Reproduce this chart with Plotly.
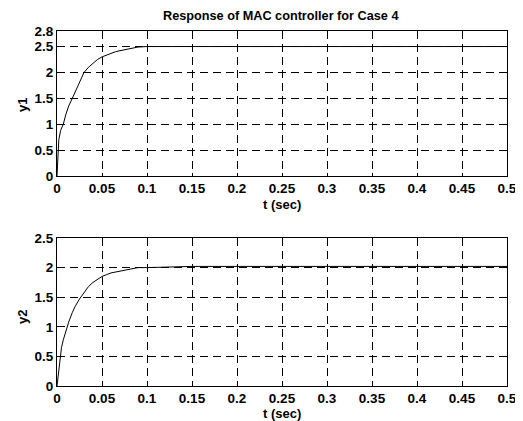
import plotly.graph_objects as go

# Data
t1 = [0, 0.001, 0.002, 0.004, 0.007, 0.01, 0.013, 0.017, 0.02, 0.025, 0.03, 0.035, 0.04, 0.045, 0.05,
      0.06, 0.065, 0.07, 0.08, 0.09, 0.1, 0.12, 0.15, 0.2, 0.3, 0.4, 0.5]
y1 = [0, 0.4, 0.7, 0.88, 1.0, 1.2, 1.35, 1.5, 1.62, 1.83, 2.0, 2.1, 2.18, 2.25, 2.3,
      2.37, 2.4, 2.42, 2.46, 2.49, 2.5, 2.5, 2.5, 2.5, 2.5, 2.5, 2.5]
t2 = [0, 0.001, 0.003, 0.005, 0.007, 0.01, 0.013, 0.017, 0.02, 0.025, 0.03, 0.035, 0.04, 0.045, 0.05,
      0.055, 0.06, 0.07, 0.08, 0.09, 0.1, 0.12, 0.15, 0.2, 0.3, 0.4, 0.5]
y2 = [0, 0.15, 0.45, 0.65, 0.78, 0.95, 1.08, 1.24, 1.34, 1.47, 1.58, 1.68, 1.75, 1.8, 1.85,
      1.88, 1.91, 1.94, 1.97, 2.0, 2.0, 2.01, 2.02, 2.02, 2.02, 2.02, 2.02]
xticks = [0, 0.05, 0.1, 0.15, 0.2, 0.25, 0.3, 0.35, 0.4, 0.45, 0.5]
xtick_text = ["0", "0.05", "0.1", "0.15", "0.2", "0.25", "0.3", "0.35", "0.4", "0.45", "0.5"]
y1ticks = [0, 0.5, 1, 1.5, 2, 2.5, 2.8]
y1tick_text = ["0", "0.5", "1", "1.5", "2", "2.5", "2.8"]
y2ticks = [0, 0.5, 1, 1.5, 2, 2.5]
y2tick_text = ["0", "0.5", "1", "1.5", "2", "2.5"]

FAM = "Liberation Sans, Arial, sans-serif"
TICKFONT = dict(family=FAM, size=13.5, color="black", weight="bold")
LABFONT = dict(family=FAM, size=13, color="black", weight="bold")
TITLEFONT = dict(family=FAM, size=12.7, color="black", weight="bold")

fig = go.Figure()
fig.add_trace(go.Scatter(x=t1, y=y1, mode="lines", line=dict(color="black", width=1),
                         xaxis="x", yaxis="y", showlegend=False))
fig.add_trace(go.Scatter(x=t2, y=y2, mode="lines", line=dict(color="black", width=1),
                         xaxis="x2", yaxis="y2", showlegend=False))

OFF = 8  # page body margin
W, H = 523 - OFF, 421 - OFF
L, R, T, B = 57 - OFF, 507 - OFF, 31 - OFF, 386 - OFF
PW, PH = R - L, B - T


def px(x):
    return (x - OFF - L) / PW


def py(y):
    return (B - (y - OFF)) / PH


yd1 = [py(176), 1]
yd2 = [0, py(238)]

axis_common = dict(showline=True, linecolor="black", linewidth=1, mirror="ticks",
                   showgrid=True, gridcolor="black", gridwidth=1, griddash="8px,5px",
                   zeroline=False, ticks="inside", ticklen=3, tickcolor="black", tickwidth=1,
                   tickfont=TICKFONT, automargin=False)

ann_common = dict(xref="paper", yref="paper", showarrow=False, xanchor="center", yanchor="middle")

fig.update_layout(
    width=W, height=H,
    margin=dict(l=L, r=W - R, t=T, b=H - B),
    paper_bgcolor="white", plot_bgcolor="white",
    font=LABFONT,
    xaxis=dict(domain=[0, 1], anchor="y", range=[0, 0.5], tickvals=xticks, ticktext=xtick_text,
               ticklabelstandoff=0, **axis_common),
    yaxis=dict(domain=yd1, anchor="x", range=[0, 2.8], tickvals=y1ticks, ticktext=y1tick_text,
               ticklabelstandoff=0, **axis_common),
    xaxis2=dict(domain=[0, 1], anchor="y2", range=[0, 0.5], tickvals=xticks, ticktext=xtick_text,
                ticklabelstandoff=0, **axis_common),
    yaxis2=dict(domain=yd2, anchor="x2", range=[0, 2.5], tickvals=y2ticks, ticktext=y2tick_text,
                ticklabelstandoff=0, **axis_common),
    annotations=[
        dict(text="Response of MAC controller for Case 4", x=px(280), y=py(16), font=TITLEFONT, **ann_common),
        dict(text="y1", x=px(22), y=py(105), textangle=-90, font=LABFONT, **ann_common),
        dict(text="y2", x=px(22), y=py(317), textangle=-90, font=LABFONT, **ann_common),
        dict(text="t (sec)", x=px(282), y=py(204), font=LABFONT, **ann_common),
        dict(text="t (sec)", x=px(282), y=py(414), font=LABFONT, **ann_common),
    ],
)

fig.write_html("out.html")
